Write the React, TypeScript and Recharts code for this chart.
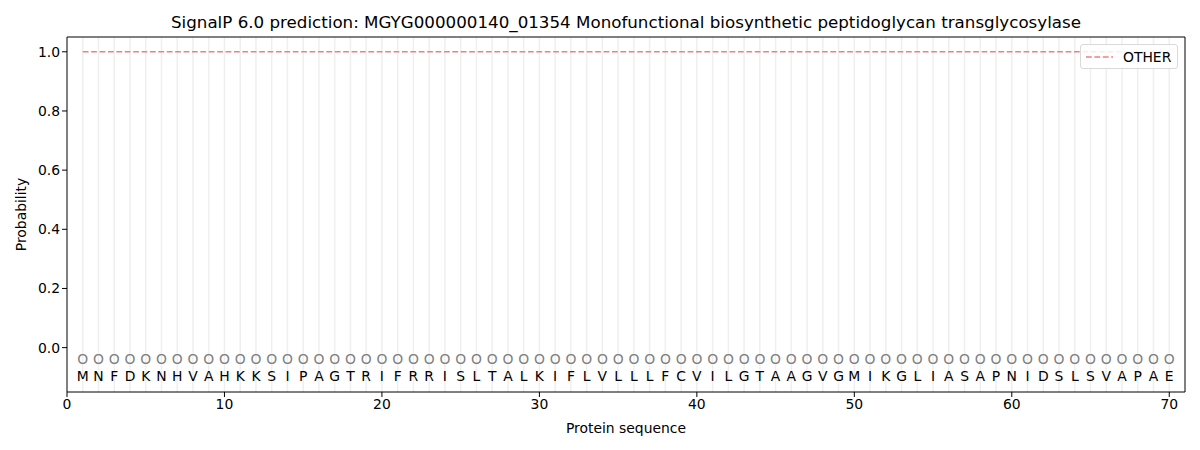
import React from 'react';
import { ComposedChart, Line, Scatter, XAxis, YAxis, ReferenceLine } from 'recharts';

const residues = ['M','N','F','D','K','N','H','V','A','H','K','K','S','I','P','A','G','T','R','I','F','R','R','I','S','L','T','A','L','K','I','F','L','V','L','L','L','F','C','V','I','L','G','T','A','A','G','V','G','M','I','K','G','L','I','A','S','A','P','N','I','D','S','L','S','V','A','P','A','E'];
const otherProb = [1,1,1,1,1,1,1,1,1,1,1,1,1,1,1,1,1,1,1,1,1,1,1,1,1,1,1,1,1,1,1,1,1,1,1,1,1,1,1,1,1,1,1,1,1,1,1,1,1,1,1,1,1,1,1,1,1,1,1,1,1,1,1,1,1,1,1,1,1,1];
const xTicks = [0, 10, 20, 30, 40, 50, 60, 70];
const yTicks = [0, 0.2, 0.4, 0.6, 0.8, 1.0];
const markerLevel = -0.04;
const letterLevel = -0.095;

const data = residues.map((r, i) => ({ pos: i + 1, other: otherProb[i], label: r, mark: markerLevel, letter: letterLevel }));

const FONT = 'DejaVu Sans, sans-serif';
const FS = 13.9;

const MarkShape = (props: any) => (
  <text x={props.cx} y={props.cy} textAnchor="middle" dominantBaseline="central" fill="#808080" fontSize={FS} fontFamily={FONT}>O</text>
);
const LetterShape = (props: any) => (
  <text x={props.cx} y={props.cy} textAnchor="middle" dominantBaseline="central" fill="#000" fontSize={FS} fontFamily={FONT}>{props.payload.label}</text>
);

export default function App() {
  return (
    <div style={{ position: 'absolute', left: 0, top: 0, width: 1200, height: 450, background: '#fff' }}>
      <div style={{ position: 'absolute', top: 12, left: 67, width: 1118, textAlign: 'center', fontFamily: FONT, fontSize: 16.7, lineHeight: '20px' }}>
        SignalP 6.0 prediction: MGYG000000140_01354 Monofunctional biosynthetic peptidoglycan transglycosylase
      </div>
      <ComposedChart width={1200} height={450} data={data} margin={{ top: 37, right: 15, bottom: 0, left: 0 }}>
        {residues.map((_, i) => (
          <ReferenceLine key={'g' + i} x={i + 1} stroke="#efefef" strokeWidth={1.5} />
        ))}
        <XAxis dataKey="pos" type="number" domain={[0, 71]} ticks={xTicks} allowDataOverflow height={58}
          stroke="#000" tick={{ fill: '#000', fontSize: FS, fontFamily: FONT }} tickSize={5}
          label={{ value: 'Protein sequence', position: 'insideBottom', offset: 17, fill: '#000', fontSize: FS, fontFamily: FONT }} />
        <YAxis type="number" domain={[-0.15, 1.05]} ticks={yTicks} allowDataOverflow width={67}
          stroke="#000" tick={{ fill: '#000', fontSize: FS, fontFamily: FONT }} tickSize={5}
          tickFormatter={(v: number) => v.toFixed(1)}
          label={{ value: 'Probability', angle: -90, position: 'insideLeft', offset: 21, fill: '#000', fontSize: FS, fontFamily: FONT, style: { textAnchor: 'middle' } }} />
        <ReferenceLine y={1.05} stroke="#000" />
        <ReferenceLine x={71} stroke="#000" />
        <Line dataKey="other" name="OTHER" stroke="#f08080" strokeWidth={1.6} strokeDasharray="5.8 2.6" dot={false} isAnimationActive={false} />
        <Scatter dataKey="mark" shape={MarkShape} isAnimationActive={false} legendType="none" />
        <Scatter dataKey="letter" shape={LetterShape} isAnimationActive={false} legendType="none" />
      </ComposedChart>
      <div style={{ position: 'absolute', top: 44, left: 1080, border: '1px solid #d9d9d9', borderRadius: 3, background: 'rgba(255,255,255,0.85)', width: 98, height: 25, display: 'flex', alignItems: 'center', fontFamily: FONT, fontSize: FS, boxSizing: 'border-box' }}>
        <svg width={34} height={10} style={{ marginLeft: 5 }}>
          <line x1={0} y1={5} x2={27} y2={5} stroke="#f08080" strokeWidth={1.6} strokeDasharray="5.8 2.6" />
        </svg>
        <span style={{ marginLeft: 3 }}>OTHER</span>
      </div>
    </div>
  );
}
